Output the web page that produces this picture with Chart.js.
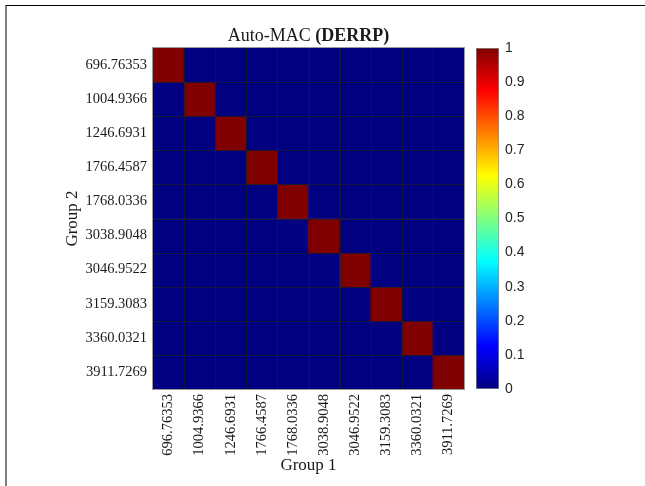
<!DOCTYPE html>
<html>
<head>
<title>Auto-MAC (DERRP)</title>
<script src="https://cdn.jsdelivr.net/npm/chart.js"></script>
<style>
body { margin: 0; width: 645px; height: 486px; overflow: hidden; background: #fff; }
#frame { position: absolute; left: 5px; top: 5px; width: 640px; height: 481px; border-left: 2px solid #7f7f7f; border-top: 1px solid #000; }
#heat { position: absolute; left: 0; top: 0; width: 645px; height: 486px; }
#cbar { position: absolute; left: 476px; top: 0; width: 169px; height: 486px; }
</style>
</head>
<body>
<div id="frame"></div>
<canvas id="heat" width="645" height="486"></canvas>
<canvas id="cbar" width="169" height="486"></canvas>

<script>
// modal frequencies (columns = Group 1, rows = Group 2)
const group1 = ['696.76353', '1004.9366', '1246.6931', '1766.4587', '1768.0336',
                '3038.9048', '3046.9522', '3159.3083', '3360.0321', '3911.7269'];
const group2 = ['696.76353', '1004.9366', '1246.6931', '1766.4587', '1768.0336',
                '3038.9048', '3046.9522', '3159.3083', '3360.0321', '3911.7269'];

// MAC values, one array per row of Group 2
const mac0 = [1, 0, 0, 0, 0, 0, 0, 0, 0, 0];
const mac1 = [0, 1, 0, 0, 0, 0, 0, 0, 0, 0];
const mac2 = [0, 0, 1, 0, 0, 0, 0, 0, 0, 0];
const mac3 = [0, 0, 0, 1, 0, 0, 0, 0, 0, 0];
const mac4 = [0, 0, 0, 0, 1, 0, 0, 0, 0, 0];
const mac5 = [0, 0, 0, 0, 0, 1, 0, 0, 0, 0];
const mac6 = [0, 0, 0, 0, 0, 0, 1, 0, 0, 0];
const mac7 = [0, 0, 0, 0, 0, 0, 0, 1, 0, 0];
const mac8 = [0, 0, 0, 0, 0, 0, 0, 0, 1, 0];
const mac9 = [0, 0, 0, 0, 0, 0, 0, 0, 0, 1];
const macRows = [mac0, mac1, mac2, mac3, mac4, mac5, mac6, mac7, mac8, mac9];

const cbarTicks = [0, 0.1, 0.2, 0.3, 0.4, 0.5, 0.6, 0.7, 0.8, 0.9, 1];

const serif = "'Liberation Serif', 'DejaVu Serif', serif";
const textColor = '#1a1a1a';

// matlab "jet" colormap
function jet(t) {
  const c = v => Math.round(255 * Math.max(0, Math.min(1, v)));
  return `rgb(${c(1.5 - Math.abs(4 * t - 3))},${c(1.5 - Math.abs(4 * t - 2))},${c(1.5 - Math.abs(4 * t - 1))})`;
}
const jetStops = [0, 0.125, 0.375, 0.625, 0.875, 1];

// cell grid + frame around the matrix
const cellGrid = {
  id: 'cellGrid',
  afterDatasetsDraw(chart) {
    const {ctx, chartArea: a, scales: {x, y}} = chart;
    ctx.save();
    ctx.strokeStyle = 'rgba(30,30,30,0.7)';
    ctx.lineWidth = 1;
    ctx.beginPath();
    for (let i = 1; i < group1.length; i++) {
      const px = Math.round(x.getPixelForValue(i - 0.5)) + 0.5;
      ctx.moveTo(px, a.top); ctx.lineTo(px, a.bottom);
    }
    for (let i = 1; i < group2.length; i++) {
      const py = Math.round(y.getPixelForValue(i)) + 0.5;
      ctx.moveTo(a.left, py); ctx.lineTo(a.right, py);
    }
    ctx.stroke();
    ctx.strokeStyle = '#9a9a9a';
    ctx.strokeRect(a.left - 0.5, a.top - 0.5, a.right - a.left + 1, a.bottom - a.top + 1);
    ctx.restore();
  }
};

// title with bold part, like the latex one
const mixedTitle = {
  id: 'mixedTitle',
  afterDraw(chart) {
    const {ctx, chartArea: a} = chart;
    const part1 = 'Auto-MAC ', part2 = '(DERRP)';
    ctx.save();
    ctx.fillStyle = textColor;
    ctx.textBaseline = 'middle';
    ctx.font = `18px ${serif}`;
    const w1 = ctx.measureText(part1).width;
    ctx.font = `bold 18px ${serif}`;
    const w2 = ctx.measureText(part2).width;
    let sx = (a.left + a.right) / 2 - (w1 + w2) / 2;
    ctx.font = `18px ${serif}`;
    ctx.fillText(part1, sx, 36);
    ctx.font = `bold 18px ${serif}`;
    ctx.fillText(part2, sx + w1, 36);
    ctx.restore();
  }
};

new Chart(document.getElementById('heat'), {
  type: 'bar',
  data: {
    labels: group1,
    datasets: group2.map((row, r) => ({
      label: row,
      data: group1.map(() => 1),
      backgroundColor: macRows[r].map(jet),
      borderWidth: 0,
      categoryPercentage: 1,
      barPercentage: 1
    }))
  },
  options: {
    responsive: false,
    animation: false,
    devicePixelRatio: 1,
    layout: { padding: { top: 48, right: 181, bottom: 0, left: 0 } },
    plugins: { legend: { display: false }, tooltip: { enabled: false } },
    scales: {
      x: {
        stacked: true,
        grid: { display: false, drawTicks: false },
        border: { display: false },
        ticks: {
          autoSkip: false, minRotation: 90, maxRotation: 90, padding: 5,
          color: textColor, font: { family: serif, size: 14.5 }
        },
        title: {
          display: true, text: 'Group 1', color: textColor,
          font: { family: serif, size: 17 }, padding: { top: 0, bottom: 10 }
        },
        afterFit: s => { s.height = 97; }
      },
      y: {
        type: 'linear',
        stacked: true,
        min: 0, max: 10, reverse: true, bounds: 'data',
        grid: { display: false, drawTicks: false },
        border: { display: false },
        afterBuildTicks: axis => { axis.ticks = group2.map((_, i) => ({ value: i + 0.5 })); },
        ticks: {
          autoSkip: false, padding: 6,
          color: textColor, font: { family: serif, size: 14.5 },
          callback: (v, i) => group2[i]
        },
        title: {
          display: true, text: 'Group 2', color: textColor,
          font: { family: serif, size: 17 }, padding: { top: 62, bottom: 0 }
        },
        afterFit: s => { s.width = 153; }
      }
    }
  },
  plugins: [cellGrid, mixedTitle]
});

// colour bar
new Chart(document.getElementById('cbar'), {
  type: 'bar',
  data: {
    labels: ['MAC'],
    datasets: [{
      data: [[0, 1]],
      backgroundColor: c => {
        const {ctx, chartArea} = c.chart;
        if (!chartArea) return null;
        const g = ctx.createLinearGradient(0, chartArea.bottom, 0, chartArea.top);
        jetStops.forEach(t => g.addColorStop(t, jet(t)));
        return g;
      },
      borderColor: '#8c8c8c',
      borderWidth: 1,
      borderSkipped: false,
      categoryPercentage: 1,
      barPercentage: 1
    }]
  },
  options: {
    responsive: false,
    animation: false,
    devicePixelRatio: 1,
    layout: { padding: { top: 48, right: 0, bottom: 97, left: 0 } },
    plugins: { legend: { display: false }, tooltip: { enabled: false } },
    scales: {
      x: { display: false },
      y: {
        position: 'right',
        min: 0, max: 1, bounds: 'data',
        grid: { display: false, drawTicks: false },
        border: { display: false },
        afterBuildTicks: axis => { axis.ticks = cbarTicks.map(v => ({ value: v })); },
        ticks: {
          padding: 6, color: '#262626',
          font: { family: "'Liberation Sans', Arial, sans-serif", size: 14 },
          callback: v => String(v)
        },
        afterFit: s => { s.width = 146; }
      }
    }
  }
});
</script>
</body>
</html>
